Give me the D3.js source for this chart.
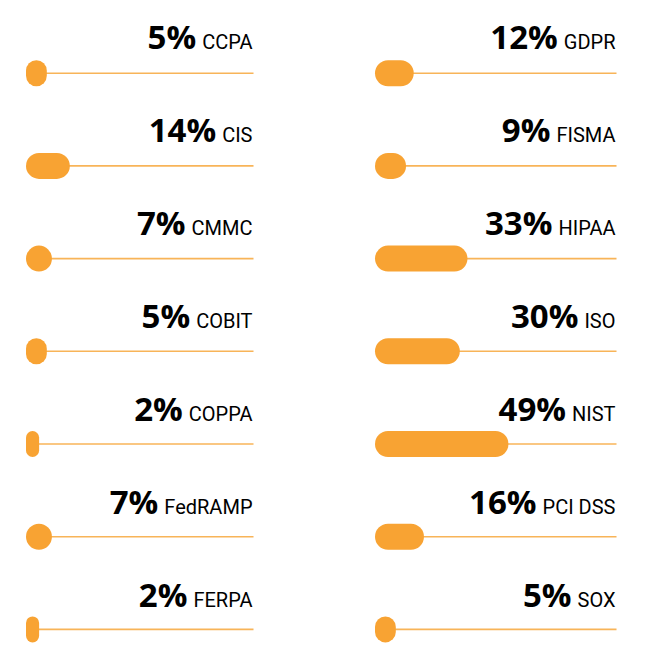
<!DOCTYPE html>
<html>
<head>
<meta charset="utf-8">
<script src="https://cdn.jsdelivr.net/npm/d3@7"></script>
<style>
  html, body { margin: 0; padding: 0; background: #ffffff; }
  svg { display: block; }
</style>
</head>
<body>
<svg id="chart" width="666" height="670"></svg>
<script>
const leftLabels = ["CCPA", "CIS", "CMMC", "COBIT", "COPPA", "FedRAMP", "FERPA"];
const leftValues = [5, 14, 7, 5, 2, 7, 2];
const rightLabels = ["GDPR", "FISMA", "HIPAA", "ISO", "NIST", "PCI DSS", "SOX"];
const rightValues = [12, 9, 33, 30, 49, 16, 5];

const svg = d3.select("#chart");
const barColor = "#f8a333";
const lineColor = "#f8b458";
const barH = 26;

const rows = d3.range(7);
const yLine = d3.scalePoint().domain(rows).range([73.2, 629.4]);
const yText = d3.scalePoint().domain(rows).range([48.6, 606.8]);
const w = d3.scaleLinear().domain([0, 50]).range([8, 136]);

const columns = [
  { labels: leftLabels, values: leftValues, x0: 26, x1: 253.5 },
  { labels: rightLabels, values: rightValues, x0: 375, x1: 616.5 }
];

columns.forEach(col => {
  const data = col.labels.map((l, i) => ({ label: l, value: col.values[i], i }));
  const g = svg.append("g");
  const row = g.selectAll("g.row").data(data).join("g").attr("class", "row");

  row.append("line")
    .attr("x1", col.x0 + 4)
    .attr("x2", col.x1)
    .attr("y1", d => yLine(d.i))
    .attr("y2", d => yLine(d.i))
    .attr("stroke", lineColor)
    .attr("stroke-width", 1.6);

  row.append("rect")
    .attr("x", col.x0)
    .attr("y", d => yLine(d.i) - barH / 2)
    .attr("width", d => w(d.value))
    .attr("height", barH)
    .attr("rx", d => Math.min(barH / 2, w(d.value) / 2))
    .attr("ry", d => Math.min(barH / 2, w(d.value) / 2))
    .attr("fill", barColor);

  const t = row.append("text")
    .attr("x", col.x1 - 1)
    .attr("y", d => yText(d.i))
    .attr("text-anchor", "end")
    .attr("fill", "#000000");
  t.append("tspan")
    .attr("font-family", "'Open Sans', sans-serif")
    .attr("font-weight", 700)
    .attr("font-size", 33)
    .text(d => d.value + "%");
  t.append("tspan")
    .attr("font-family", "Roboto, sans-serif")
    .attr("font-weight", 400)
    .attr("font-size", 20)
    .attr("dx", 6)
    .text(d => d.label);
});
</script>
</body>
</html>
